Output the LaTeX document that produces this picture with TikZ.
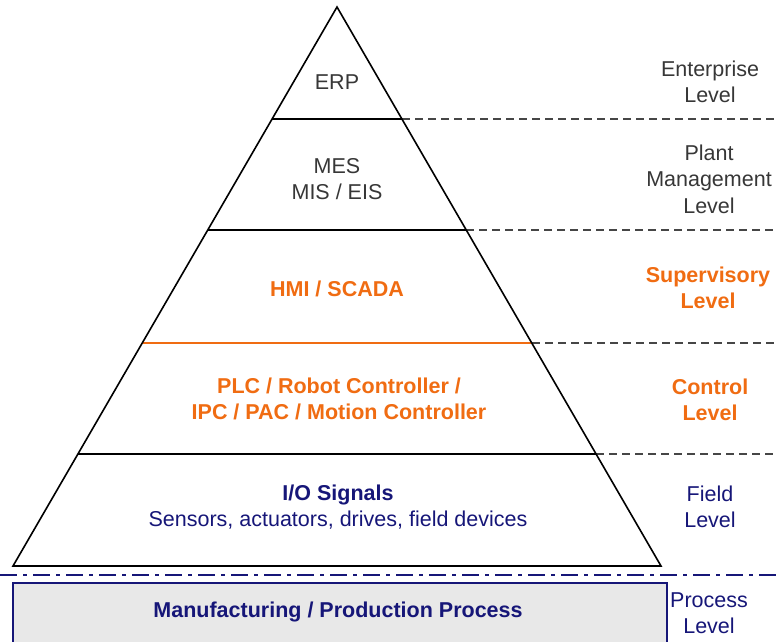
\documentclass[tikz,border=0pt]{standalone}
\usepackage{fontspec}
\setmainfont{Liberation Sans}
\definecolor{orng}{RGB}{240,108,18}
\definecolor{navy}{RGB}{22,22,120}
\definecolor{txtgray}{RGB}{55,55,55}
\definecolor{dashgray}{RGB}{70,70,70}
\definecolor{boxfill}{RGB}{232,232,232}
\tikzset{
  lvl/.style={line width=1.6pt, black},
  ext/.style={line width=1.1pt, dashgray, dash pattern=on 8pt off 5pt},
  inner/.style={align=center, font=\fontsize{21.5}{26.5}\selectfont, text=txtgray, inner sep=0pt},
  boldtxt/.style={font=\fontsize{21.5}{26.5}\selectfont\bfseries},
  side/.style={align=center, font=\fontsize{21.5}{26.5}\selectfont, text=txtgray, inner sep=0pt},
}
\begin{document}
\begin{tikzpicture}[x=1pt,y=-1pt]
\useasboundingbox (0,0) rectangle (776,641);
% pyramid coordinates
\coordinate (apex) at (337,7);
\coordinate (bl) at (13,566);
\coordinate (br) at (661,566);
\coordinate (l1) at (272,119); \coordinate (r1) at (402,119);
\coordinate (l2) at (208,230); \coordinate (r2) at (466,230);
\coordinate (l3) at (142,343); \coordinate (r3) at (532,343);
\coordinate (l4) at (78,454);  \coordinate (r4) at (596,454);
\coordinate (e1) at (776,119);
\coordinate (e2) at (776,230);
\coordinate (e3) at (776,343);
\coordinate (e4) at (776,454);
% dashed extensions
\draw[ext] (r1) -- (e1);
\draw[ext] (r2) -- (e2);
\draw[ext] (r3) -- (e3);
\draw[ext] (r4) -- (e4);
% level lines
\draw[lvl] (l1) -- (r1);
\draw[lvl] (l2) -- (r2);
\draw[line width=1.6pt, orng] (l3) -- (r3);
\draw[lvl] (l4) -- (r4);
% triangle
\draw[lvl, line join=miter] (apex) -- (br) -- (bl) -- cycle;
% dash-dot separator
\coordinate (s1) at (0,575);
\coordinate (s2) at (776,575);
\draw[navy, line width=1.6pt, dash pattern=on 17pt off 6pt on 4pt off 6pt] (s1) -- (s2);
% process box
\draw[navy, line width=1.3pt, fill=boxfill] (13,583) rectangle (667,650);
% inner texts
\node[inner] (erp) at (337,82) {ERP};
\node[inner] (mes) at (337,179) {MES\\MIS / EIS};
\node[inner, text=orng, boldtxt] (hmi) at (337,289) {HMI / SCADA};
\node[inner, text=orng, boldtxt] (plc) at (339,399) {PLC / Robot Controller /\\IPC / PAC / Motion Controller};
\node[inner, text=navy] (io) at (338,507) {\textbf{I/O Signals}\\Sensors, actuators, drives, field devices};
\node[inner, text=navy, boldtxt] (mfg) at (338,612) {Manufacturing / Production Process};
% side labels
\node[side] (ent) at (710,82) {Enterprise\\Level};
\node[side] (plant) at (709,179) {Plant\\Management\\Level};
\node[side, text=orng, boldtxt] (sup) at (708,288) {Supervisory\\Level};
\node[side, text=orng, boldtxt] (ctl) at (710,400) {Control\\Level};
\node[side, text=navy] (fld) at (710,507) {Field\\Level};
\node[side, text=navy] (proc) at (709,613) {Process\\Level};
\end{tikzpicture}
\end{document}
